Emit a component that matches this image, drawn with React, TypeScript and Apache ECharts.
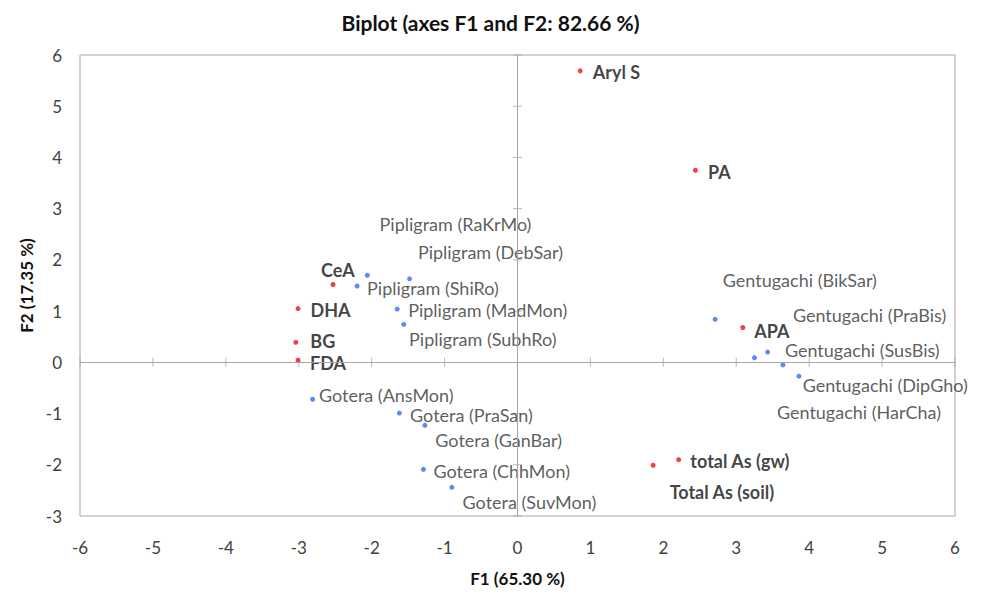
import React, { useEffect, useRef } from "react";
import * as echarts from "echarts";

const variableNames = ["Aryl S", "PA", "CeA", "DHA", "BG", "FDA", "APA", "total As (gw)", "Total As (soil)"];
const variableF1 = [0.86, 2.44, -2.53, -3.01, -3.04, -3.01, 3.09, 2.21, 1.86];
const variableF2 = [5.69, 3.75, 1.52, 1.05, 0.39, 0.04, 0.68, -1.9, -2.01];

const obsNames = [
  "Pipligram (RaKrMo)", "Pipligram (DebSar)", "Pipligram (ShiRo)", "Pipligram (MadMon)", "Pipligram (SubhRo)",
  "Gotera (AnsMon)", "Gotera (PraSan)", "Gotera (GanBar)", "Gotera (ChhMon)", "Gotera (SuvMon)",
  "Gentugachi (BikSar)", "Gentugachi (PraBis)", "Gentugachi (SusBis)", "Gentugachi (HarCha)", "Gentugachi (DipGho)",
];
const obsF1 = [-2.06, -1.48, -2.2, -1.65, -1.56, -2.81, -1.62, -1.27, -1.29, -0.9, 2.71, 3.25, 3.43, 3.64, 3.86];
const obsF2 = [1.7, 1.63, 1.49, 1.04, 0.74, -0.72, -0.99, -1.23, -2.09, -2.44, 0.84, 0.09, 0.2, -0.05, -0.27];

const xTicks = [-6, -5, -4, -3, -2, -1, 1, 2, 3, 4, 5, 6];
const yTicks = [-3, -2, -1, 1, 2, 3, 4, 5, 6];

// label placement (layout only)
const labelOffsets: Record<string, [number, number]> = {
  "Aryl S": [5, 1],
  PA: [5, 1.5],
  CeA: [-19.5, -14.7],
  DHA: [5, 1],
  BG: [7, -1.3],
  FDA: [4.5, 3],
  APA: [4, 3],
  "total As (gw)": [4.2, 1.4],
  "Total As (soil)": [9, 27],
  "Pipligram (RaKrMo)": [4.8, -51],
  "Pipligram (DebSar)": [0.8, -26.4],
  "Pipligram (ShiRo)": [2.5, 1.6],
  "Pipligram (MadMon)": [3.5, 0.6],
  "Pipligram (SubhRo)": [-2.2, 14.7],
  "Gotera (AnsMon)": [-1.2, -4.7],
  "Gotera (PraSan)": [3.2, 2.3],
  "Gotera (GanBar)": [2.9, 14.3],
  "Gotera (ChhMon)": [2.6, 1.7],
  "Gotera (SuvMon)": [3.2, 15],
  "Gentugachi (BikSar)": [0.2, -39],
  "Gentugachi (PraBis)": [30.9, -42.3],
  "Gentugachi (SusBis)": [9.8, -2.4],
  "Gentugachi (HarCha)": [-13.5, 47.4],
  "Gentugachi (DipGho)": [-3.8, 9.3],
};

const FONT = "Lato";

export default function App() {
  const ref = useRef<HTMLDivElement>(null);
  useEffect(() => {
    if (!ref.current) return;
    const chart = echarts.init(ref.current, undefined, { renderer: "svg" });
    const mk = (names: string[], xs: number[], ys: number[]) =>
      names.map((n, i) => ({
        name: n,
        value: [xs[i], ys[i]],
        label: { offset: labelOffsets[n] || [0, 0] },
      }));
    chart.setOption({
      animation: false,
      textStyle: { fontFamily: FONT },
      title: {
        text: "Biplot (axes F1 and F2: 82.66 %)",
        left: "center",
        top: 7,
        textStyle: { fontFamily: FONT, fontSize: 21, fontWeight: "bold", color: "#111" },
      },
      grid: {
        left: 80,
        right: 26,
        top: 55,
        bottom: 78,
        show: true,
        borderColor: "#a6a6a6",
        borderWidth: 1,
      },
      xAxis: {
        type: "value",
        min: -6,
        max: 6,
        interval: 1,
        name: "F1 (65.30 %)",
        nameLocation: "middle",
        nameGap: 54,
        nameTextStyle: { fontFamily: FONT, fontSize: 17, fontWeight: "bold", color: "#111" },
        axisLine: { show: false, onZero: false },
        axisTick: { show: false },
        splitLine: { show: false },
        axisLabel: { margin: 23, fontSize: 17, color: "#404040", fontFamily: FONT },
      },
      yAxis: {
        type: "value",
        min: -3,
        max: 6,
        interval: 1,
        name: "F2 (17.35 %)",
        nameLocation: "middle",
        nameGap: 45,
        nameTextStyle: { fontFamily: FONT, fontSize: 17, fontWeight: "bold", color: "#111" },
        axisLine: { show: false, onZero: false },
        axisTick: { show: false },
        splitLine: { show: false },
        axisLabel: { margin: 18, fontSize: 17, color: "#404040", fontFamily: FONT },
      },
      series: [
        {
          type: "scatter",
          silent: true,
          symbol: "rect",
          symbolSize: [1, 9],
          itemStyle: { color: "#a6a6a6" },
          data: xTicks.map((t) => [t, 0]),
          markLine: {
            silent: true,
            symbol: ["none", "none"],
            label: { show: false },
            lineStyle: { color: "#a6a6a6", type: "solid", width: 1 },
            data: [{ xAxis: 0 }, { yAxis: 0 }],
          },
          z: 1,
        },
        {
          type: "scatter",
          silent: true,
          symbol: "rect",
          symbolSize: [9, 1],
          itemStyle: { color: "#a6a6a6" },
          data: yTicks.map((t) => [0, t]),
          z: 1,
        },
        {
          type: "scatter",
          name: "Observations",
          symbolSize: 5,
          itemStyle: { color: "#3a6cf0" },
          data: mk(obsNames, obsF1, obsF2),
          label: {
            show: true,
            position: "right",
            distance: 5,
            formatter: "{b}",
            fontFamily: FONT,
            fontSize: 18,
            color: "#333",
          },
          z: 3,
        },
        {
          type: "scatter",
          name: "Variables",
          symbolSize: 5,
          itemStyle: { color: "#e8101a" },
          data: mk(variableNames, variableF1, variableF2),
          label: {
            show: true,
            position: "right",
            distance: 5,
            formatter: "{b}",
            fontFamily: FONT,
            fontSize: 18,
            fontWeight: "bold",
            color: "#111",
          },
          z: 3,
        },
      ],
    });
    return () => chart.dispose();
  }, []);
  return (
    <div
      ref={ref}
      style={{ position: "fixed", left: 0, top: 0, width: 981, height: 594, background: "#fff" }}
    />
  );
}
